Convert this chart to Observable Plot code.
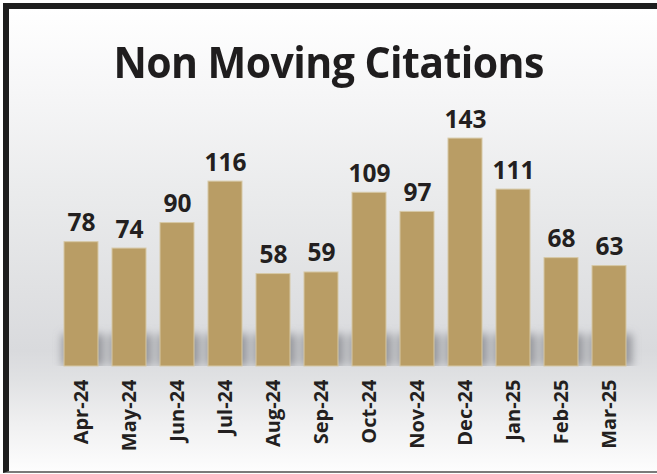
<!DOCTYPE html>
<html>
<head>
<meta charset="utf-8">
<script src="https://cdn.jsdelivr.net/npm/d3@7"></script>
<script src="https://cdn.jsdelivr.net/npm/@observablehq/plot@0.6"></script>
<style>
  html, body { margin: 0; padding: 0; background: #fff; }
  #frame {
    position: absolute; left: 3px; top: 3px; width: 654px; height: 470px;
    box-sizing: border-box;
    border-left: 6px solid #1e1e1e; border-top: 6px solid #1e1e1e;
    border-bottom: 2px solid #7a7a7a;
    background: linear-gradient(to bottom, #ffffff 0%, #f6f6f7 18%, #eaebec 40%, #e0e1e3 60%, #d9dadd 74%, #e0e1e3 80%, #f0f0f1 90%, #fdfdfd 100%);
  }
  #title {
    position: absolute; left: 0; top: 40px; width: 657px; text-align: center;
    font-family: "Open Sans", sans-serif; font-weight: 700; font-size: 43px;
    color: #1f1d1e; line-height: 1; letter-spacing: -0.6px;
    transform: scaleX(0.955); transform-origin: 331px 0;
  }
  #chart { position: absolute; left: 0; top: 95px; }
</style>
</head>
<body>
<div id="frame"></div>
<div id="title">Non Moving Citations</div>
<div id="chart"></div>
<script>
const months = ["Apr-24","May-24","Jun-24","Jul-24","Aug-24","Sep-24","Oct-24","Nov-24","Dec-24","Jan-25","Feb-25","Mar-25"];
const citations = [78, 74, 90, 116, 58, 59, 109, 97, 143, 111, 68, 63];

const data = months.map((m, i) => ({month: m, value: citations[i]}));

const chart = Plot.plot({
  width: 657,
  height: 374,
  marginLeft: 47.5,
  marginRight: 14.5,
  marginTop: 16,
  marginBottom: 103,
  style: {background: "transparent", fontFamily: "Open Sans, sans-serif", color: "#231f20"},
  x: {domain: months, padding: 0.3, label: null, tickSize: 0, tickPadding: 13, tickRotate: -90},
  y: {domain: [0, 160], axis: null},
  marks: [
    Plot.barY(data, {x: "month", y: d => Math.min(d.value, 20), fill: "#8a8b91", fillOpacity: 0.85, dx: 2, insetLeft: -4, insetRight: -4}),
    Plot.barY(data, {x: "month", y: "value", fill: "#b99d65", stroke: "#d6c8a6", strokeWidth: 1}),
    Plot.text(data, {x: "month", y: "value", text: d => String(d.value), lineAnchor: "bottom", dy: -11, fontSize: 24.5, fontWeight: 700, fill: "#231f20"})
  ]
});
const svg = d3.select(chart);
svg.selectAll('g[aria-label="x-axis tick label"] text, g[aria-label="x-axis tick label"]')
  .style("font-size", "20px").style("font-weight", "700").style("fill", "#231f20");
const base = chart.scale("y").apply(0);
const defs = svg.insert("defs", ":first-child");
defs.append("filter").attr("id", "shadowBlur").attr("filterUnits", "userSpaceOnUse")
  .attr("x", 0).attr("y", 0).attr("width", 657).attr("height", base)
  .append("feGaussianBlur").attr("stdDeviation", 4.5);
const shadowG = svg.selectAll('g[aria-label="bar"]').nodes()[0];
d3.select(shadowG).attr("filter", "url(#shadowBlur)");
document.getElementById("chart").appendChild(chart);
</script>
</body>
</html>
